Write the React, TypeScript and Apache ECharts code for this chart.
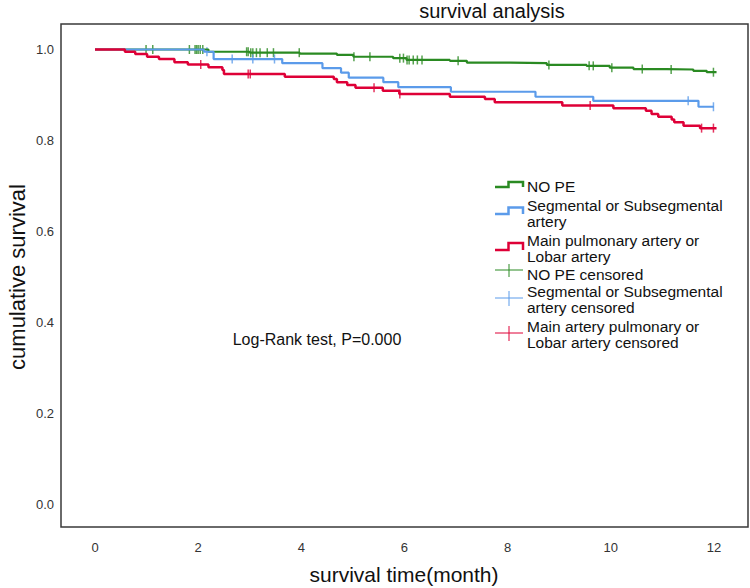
import React, { useEffect, useRef } from "react";
import * as echarts from "echarts";

// ---- data ----
const greenTimes = [0, 2.2, 3.0, 3.97, 4.69, 5.01, 5.78, 6.04, 6.88, 7.21, 8.05, 8.76, 9.53, 9.98, 10.44, 11.08, 11.6, 11.86, 12.05];
const greenSurv = [1, 0.995, 0.993, 0.991, 0.988, 0.984, 0.981, 0.977, 0.975, 0.971, 0.97, 0.966, 0.964, 0.96, 0.957, 0.956, 0.953, 0.95, 0.95];
const greenCensored = [0.99, 1.12, 1.83, 1.94, 1.97, 2.0, 2.04, 2.09, 2.94, 2.97, 3.02, 3.06, 3.13, 3.2, 3.34, 3.46, 3.96, 5.02, 5.33, 5.91, 5.98, 6.05, 6.09, 6.17, 6.25, 6.34, 7.04, 8.8, 9.58, 9.66, 10.02, 10.61, 11.17, 11.99];

const blueTimes = [0, 2.11, 2.3, 3.63, 4.41, 4.77, 4.92, 5.59, 5.88, 6.9, 8.54, 9.66, 11.7, 12.0];
const blueSurv = [1, 0.995, 0.979, 0.97, 0.959, 0.949, 0.938, 0.928, 0.917, 0.907, 0.896, 0.887, 0.874, 0.874];
const blueCensored = [2.17, 2.66, 3.06, 3.48, 11.5, 11.99];

const redTimes = [0, 0.58, 0.78, 1.01, 1.24, 1.54, 1.8, 2.2, 2.47, 2.5, 3.68, 4.63, 4.69, 4.89, 5.05, 5.58, 5.9, 6.88, 7.56, 7.75, 9.06, 10.05, 10.68, 10.79, 10.92, 11.18, 11.23, 11.41, 11.73, 12.05];
const redSurv = [1, 0.995, 0.99, 0.984, 0.979, 0.972, 0.967, 0.961, 0.955, 0.946, 0.94, 0.935, 0.928, 0.922, 0.916, 0.909, 0.902, 0.896, 0.891, 0.884, 0.877, 0.871, 0.865, 0.858, 0.852, 0.846, 0.84, 0.832, 0.827, 0.827];
const redCensored = [2.05, 2.97, 3.01, 5.41, 5.91, 9.6, 11.76, 11.99];

const xTicks = [0, 2, 4, 6, 8, 10, 12];
const yTicks = [0, 0.2, 0.4, 0.6, 0.8, 1.0];

const GREEN = "#2a8a22";
const BLUE = "#5b9bea";
const RED = "#de0037";
const FONT = "'Liberation Sans', Arial, sans-serif";

function stepValue(times: number[], surv: number[], t: number) {
  let v = surv[0];
  for (let i = 0; i < times.length; i++) {
    if (times[i] <= t) v = surv[i];
  }
  return v;
}

function zip(a: number[], b: number[]) {
  return a.map((t, i) => [t, b[i]]);
}

function censorPts(times: number[], surv: number[], cens: number[]) {
  return cens.map((t) => [t, stepValue(times, surv, t)]);
}

const legendItems = [
  { kind: "step", color: GREEN, lines: ["NO PE"], cy: 186, iy: [187, 182] },
  { kind: "step", color: BLUE, lines: ["Segmental or Subsegmental", "artery"], cy: 213, iy: [214, 207.5] },
  { kind: "step", color: RED, lines: ["Main pulmonary artery or", "Lobar artery"], cy: 248, iy: [250, 243] },
  { kind: "cross", color: GREEN, lines: ["NO PE censored"], cy: 274, iy: [270, 264, 277] },
  { kind: "cross", color: BLUE, lines: ["Segmental or Subsegmental", "artery censored"], cy: 299.5, iy: [298, 291, 306] },
  { kind: "cross", color: RED, lines: ["Main artery pulmonary or", "Lobar artery censored"], cy: 334.5, iy: [333, 326, 341] },
];

export default function App() {
  const ref = useRef<HTMLDivElement>(null);
  useEffect(() => {
    if (!ref.current) return;
    const chart = echarts.init(ref.current, undefined, { renderer: "svg" });

    const graphics: any[] = [];
    graphics.push({
      type: "text",
      x: 492,
      y: 11,
      style: { text: "survival analysis", font: `20px ${FONT}`, fill: "#111", textAlign: "center", textVerticalAlign: "middle" },
    });
    graphics.push({
      type: "text",
      x: 17,
      y: 277,
      rotation: Math.PI / 2,
      style: { text: "cumulative survival", font: `22px ${FONT}`, fill: "#111", textAlign: "center", textVerticalAlign: "middle" },
    });
    graphics.push({
      type: "text",
      x: 404,
      y: 574,
      style: { text: "survival time(month)", font: `21px ${FONT}`, fill: "#111", textAlign: "center", textVerticalAlign: "middle" },
    });
    graphics.push({
      type: "text",
      x: 317,
      y: 339,
      style: { text: "Log-Rank test, P=0.000", font: `16px ${FONT}`, fill: "#111", textAlign: "center", textVerticalAlign: "middle" },
    });

    legendItems.forEach((it) => {
      if (it.kind === "step") {
        const [lo, hi] = it.iy;
        graphics.push({
          type: "polyline",
          shape: { points: [[495, lo], [508.5, lo], [508.5, hi], [523, hi], [523, lo]] },
          style: { stroke: it.color, lineWidth: 2.5, fill: null },
        });
      } else {
        const [h, v0, v1] = it.iy;
        graphics.push({ type: "line", shape: { x1: 495, y1: h, x2: 523, y2: h }, style: { stroke: it.color, lineWidth: 1 } });
        graphics.push({ type: "line", shape: { x1: 509, y1: v0, x2: 509, y2: v1 }, style: { stroke: it.color, lineWidth: 1 } });
      }
      const n = it.lines.length;
      it.lines.forEach((ln, i) => {
        graphics.push({
          type: "text",
          x: 527,
          y: it.cy + (i - (n - 1) / 2) * 16,
          style: { text: ln, font: `15.5px ${FONT}`, fill: "#111", textAlign: "left", textVerticalAlign: "middle" },
        });
      });
    });

    const lineSeries = (name: string, data: number[][], color: string, w: number) => ({
      name,
      type: "line",
      step: "end",
      data,
      symbol: "none",
      lineStyle: { color, width: w },
      itemStyle: { color },
      silent: true,
    });
    const censorSeries = (name: string, data: number[][], color: string) => ({
      name,
      type: "scatter",
      data,
      symbol: "rect",
      symbolSize: [1.5, 9],
      itemStyle: { color },
      silent: true,
    });

    chart.setOption({
      animation: false,
      grid: { left: 61, top: 24, right: 2, bottom: 61, show: true, borderColor: "#3a3a3a", borderWidth: 1.5, backgroundColor: "#fff" },
      xAxis: {
        type: "value",
        min: -0.659,
        max: 12.66,
        axisLine: { show: false },
        axisTick: { show: false },
        splitLine: { show: false },
        axisLabel: { customValues: xTicks, margin: 14, fontSize: 13, fontFamily: FONT, color: "#333", formatter: (v: number) => String(v) },
      },
      yAxis: {
        type: "value",
        min: -0.0506,
        max: 1.0561,
        axisLine: { show: false },
        axisTick: { show: false },
        splitLine: { show: false },
        axisLabel: { customValues: yTicks, margin: 7, fontSize: 13, fontFamily: FONT, color: "#333", formatter: (v: number) => v.toFixed(1) },
      },
      graphic: graphics,
      series: [
        lineSeries("NO PE", zip(greenTimes, greenSurv), GREEN, 2.2),
        lineSeries("Segmental or Subsegmental artery", zip(blueTimes, blueSurv), BLUE, 2.2),
        lineSeries("Main pulmonary artery or Lobar artery", zip(redTimes, redSurv), RED, 2.5),
        censorSeries("NO PE censored", censorPts(greenTimes, greenSurv, greenCensored), GREEN),
        censorSeries("Segmental or Subsegmental artery censored", censorPts(blueTimes, blueSurv, blueCensored), BLUE),
        censorSeries("Main artery pulmonary or Lobar artery censored", censorPts(redTimes, redSurv, redCensored), RED),
      ],
    });
    return () => chart.dispose();
  }, []);
  return <div ref={ref} style={{ position: "fixed", left: 0, top: 0, width: 750, height: 588, background: "#fff" }} />;
}
